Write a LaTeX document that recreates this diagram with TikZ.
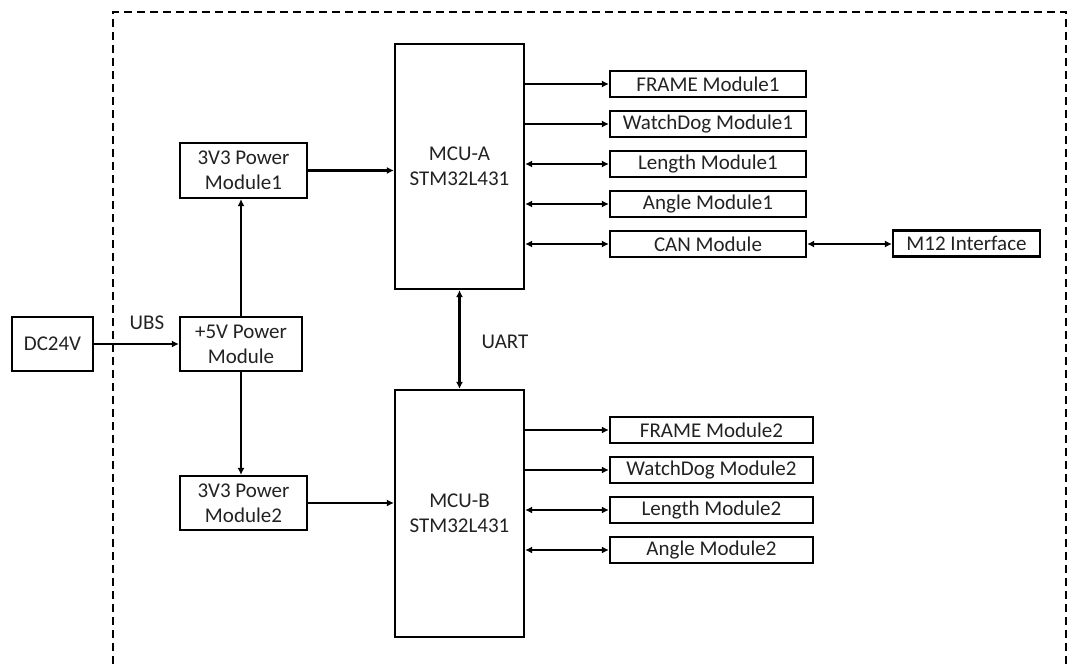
\documentclass[tikz,border=0pt]{standalone}
\usepackage{fontspec}
\setmainfont{Carlito}
\usetikzlibrary{arrows.meta}
\definecolor{txt}{HTML}{222222}
\begin{document}
\begin{tikzpicture}[x=1pt,y=-1pt,
  box/.style={draw=black,line width=2.2pt,inner sep=0pt,text=txt,align=center,font=\fontsize{21}{25}\selectfont},
  lbl/.style={inner sep=0pt,text=txt,font=\fontsize{21}{25}\selectfont},
  conn/.style={line width=2.2pt,-{Latex[length=7pt,width=7pt]}},
  bconn/.style={line width=2.2pt,{Latex[length=7pt,width=7pt]}-{Latex[length=7pt,width=7pt]}},
  border/.style={line width=2.2pt,dash pattern=on 8pt off 5pt}]
\useasboundingbox (0,0) rectangle (1075,664);
\draw[border] (113,664) -- (113,12) -- (1066,12) -- (1066,664);
% nodes
\node[box,minimum width=81pt,minimum height=54pt] (dc) at (52.5,344) {DC24V};
\node[box,minimum width=122pt,minimum height=54pt] (p5) at (241,344) {+5V Power\\Module};
\node[box,minimum width=127pt,minimum height=55pt] (p1) at (243.5,170.5) {3V3 Power\\Module1};
\node[box,minimum width=127pt,minimum height=54pt] (p2) at (243.5,503) {3V3 Power\\Module2};
\node[box,minimum width=129pt,minimum height=245pt] (ma) at (459.5,166.5) {MCU-A\\STM32L431};
\node[box,minimum width=129pt,minimum height=247pt] (mb) at (459.5,513.5) {MCU-B\\STM32L431};
\node[box,minimum width=196pt,minimum height=26pt] (fa) at (708,84) {FRAME Module1};
\node[box,minimum width=196pt,minimum height=26pt] (wa) at (708,124) {WatchDog Module1};
\node[box,minimum width=196pt,minimum height=26pt] (la) at (708,164) {Length Module1};
\node[box,minimum width=196pt,minimum height=26pt] (aa) at (708,204) {Angle Module1};
\node[box,minimum width=196pt,minimum height=26pt] (can) at (708,244) {CAN Module};
\node[box,minimum width=147pt,minimum height=26pt] (m12) at (966.5,243.5) {M12 Interface};
\node[box,minimum width=203pt,minimum height=26pt] (fb) at (711.5,430) {FRAME Module2};
\node[box,minimum width=203pt,minimum height=26pt] (wb) at (711.5,470) {WatchDog Module2};
\node[box,minimum width=203pt,minimum height=26pt] (lb) at (711.5,510) {Length Module2};
\node[box,minimum width=203pt,minimum height=26pt] (ab) at (711.5,550) {Angle Module2};
\node[lbl] (ubs) at (147,323) {UBS};
\node[lbl] (uart) at (505,342) {UART};
% connectors
\draw[conn] (dc.east) -- (p5.west);
\draw[conn] (p5.north) -- (p5.north |- p1.south);
\draw[conn] (p5.south) -- (p5.south |- p2.north);
\draw[conn] (p1.east) -- (p1.east -| ma.west);
\draw[conn] (p2.east) -- (p2.east -| mb.west);
\draw[bconn] (ma.south) -- (mb.north);
\draw[conn] (ma.east |- fa.west) -- (fa.west);
\draw[conn] (ma.east |- wa.west) -- (wa.west);
\draw[bconn] (ma.east |- la.west) -- (la.west);
\draw[bconn] (ma.east |- aa.west) -- (aa.west);
\draw[bconn] (ma.east |- can.west) -- (can.west);
\draw[bconn] (can.east) -- (can.east -| m12.west);
\draw[conn] (mb.east |- fb.west) -- (fb.west);
\draw[conn] (mb.east |- wb.west) -- (wb.west);
\draw[bconn] (mb.east |- lb.west) -- (lb.west);
\draw[bconn] (mb.east |- ab.west) -- (ab.west);
\end{tikzpicture}
\end{document}
